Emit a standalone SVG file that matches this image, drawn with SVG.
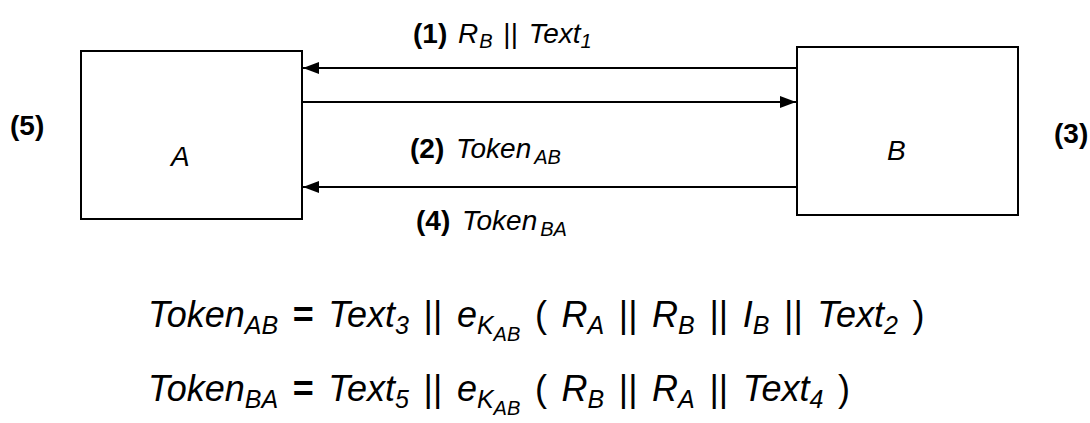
<svg xmlns="http://www.w3.org/2000/svg" width="1090" height="423" viewBox="0 0 1090 423">
  <style>
    text { font-family: "Liberation Sans", Arial, sans-serif; fill: #000; }
    .lbl { font-size: 28px; }
    .num { font-weight: bold; font-style: normal; }
    .it { font-style: italic; }
    .up { font-style: normal; }
    .ls { font-size: 20px; font-style: italic; }
    .node { fill: #fff; stroke: #000; stroke-width: 2; }
    .conn { stroke: #000; stroke-width: 2.2; fill: none; }
    .eq { font-size: 36px; font-style: italic; word-spacing: 4.6px; }
    .sub { font-size: 25px; }
    .sub2 { font-size: 20px; }
  </style>
  <defs>
    <marker id="head" viewBox="0 0 16 12" refX="16" refY="6" markerWidth="16" markerHeight="12" markerUnits="userSpaceOnUse" orient="auto">
      <path d="M0,0 L16,6 L0,12 z" fill="#000"/>
    </marker>
  </defs>

  <!-- party A -->
  <g id="node-A">
    <rect class="node" x="81" y="51" width="221" height="168"/>
    <text class="it" x="171" y="166" font-size="28">A</text>
  </g>

  <!-- party B -->
  <g id="node-B">
    <rect class="node" x="797" y="47" width="221" height="168"/>
    <text class="it" x="887" y="160" font-size="28">B</text>
  </g>

  <!-- step markers beside the parties -->
  <text class="lbl num" x="10" y="135">(5)</text>
  <text class="lbl num" x="1054" y="143">(3)</text>

  <!-- message arrows -->
  <g id="connectors">
    <line class="conn" x1="797" y1="68" x2="303" y2="68" marker-end="url(#head)"/>
    <line class="conn" x1="302" y1="102" x2="796" y2="102" marker-end="url(#head)"/>
    <line class="conn" x1="797" y1="187" x2="303" y2="187" marker-end="url(#head)"/>
  </g>

  <!-- message labels -->
  <text class="lbl" x="413" y="43" word-spacing="3"><tspan class="num">(1)</tspan> <tspan class="it">R</tspan><tspan class="ls" dx="1" dy="5">B</tspan><tspan dy="-5"> || </tspan><tspan class="it">Text</tspan><tspan class="ls" dy="5">1</tspan></text>
  <text class="lbl" x="410" y="158" word-spacing="4"><tspan class="num">(2)</tspan> <tspan class="it">Token</tspan><tspan class="ls" dx="3" dy="6">AB</tspan></text>
  <text class="lbl" x="416" y="230" word-spacing="4"><tspan class="num">(4)</tspan> <tspan class="it">Token</tspan><tspan class="ls" dx="3" dy="6">BA</tspan></text>

  <!-- token definitions -->
  <text class="eq" x="148" y="327">Token<tspan class="sub" dy="7">AB</tspan><tspan class="num" dy="-7"> = </tspan>Text<tspan class="sub" dy="7">3</tspan><tspan class="up" dy="-7"> || </tspan>e<tspan class="sub" dy="7">K</tspan><tspan class="sub2" dy="7">AB</tspan><tspan class="up" dy="-14">  ( </tspan>R<tspan class="sub" dy="7">A</tspan><tspan class="up" dy="-7"> || </tspan>R<tspan class="sub" dy="7">B</tspan><tspan class="up" dy="-7"> || </tspan>I<tspan class="sub" dy="7">B</tspan><tspan class="up" dy="-7"> || </tspan>Text<tspan class="sub" dy="7">2</tspan><tspan class="up" dy="-7"> )</tspan></text>
  <text class="eq" x="148" y="401">Token<tspan class="sub" dy="7">BA</tspan><tspan class="num" dy="-7"> = </tspan>Text<tspan class="sub" dy="7">5</tspan><tspan class="up" dy="-7"> || </tspan>e<tspan class="sub" dy="7">K</tspan><tspan class="sub2" dy="7">AB</tspan><tspan class="up" dy="-14">  ( </tspan>R<tspan class="sub" dy="7">B</tspan><tspan class="up" dy="-7"> || </tspan>R<tspan class="sub" dy="7">A</tspan><tspan class="up" dy="-7"> || </tspan>Text<tspan class="sub" dy="7">4</tspan><tspan class="up" dy="-7"> )</tspan></text>
</svg>
